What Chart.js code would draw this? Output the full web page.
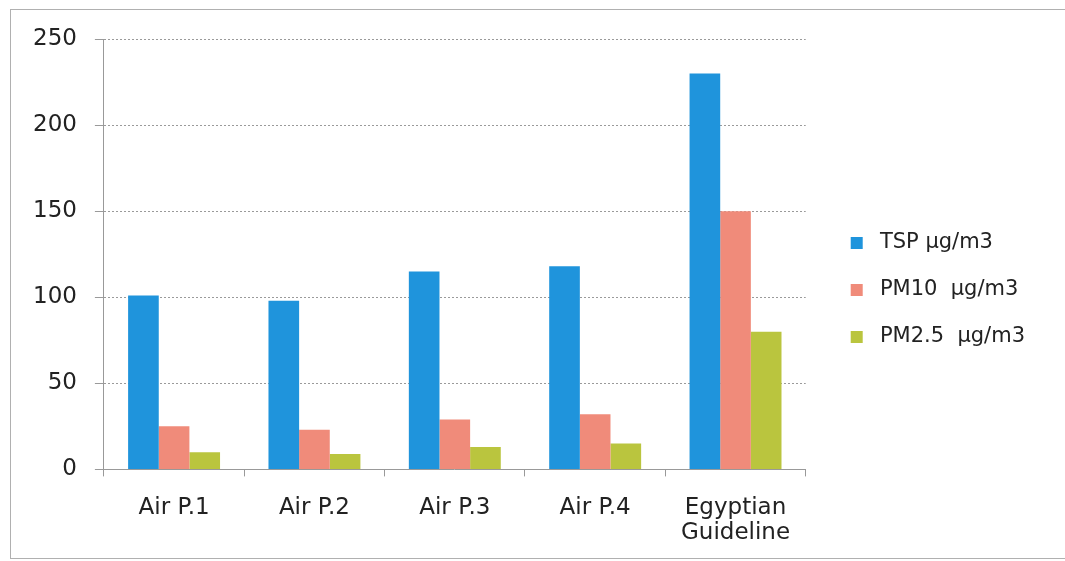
<!DOCTYPE html>
<html>
<head>
<meta charset="utf-8">
<script src="https://cdn.jsdelivr.net/npm/chart.js@4"></script>
<style>
    html, body { margin: 0; padding: 0; background: #fff; overflow: hidden; }
    #wrap { position: relative; width: 1065px; height: 561px; overflow: hidden; }
    #frame {
        position: absolute; left: 10px; top: 9px; width: 1100px; height: 548px;
        border: 1px solid #b0b0b0; border-right: none; pointer-events: none;
    }
</style>
</head>
<body>
<div id="wrap">
    <canvas id="pmChart" width="1065" height="561"></canvas>
    <div id="frame"></div>
</div>
<script>
// Categories and measured concentrations (µg/m3)
const categories = ['Air P.1', 'Air P.2', 'Air P.3', 'Air P.4', ['Egyptian', 'Guideline']];
const seriesNames = [' TSP µg/m3', ' PM10  µg/m3', ' PM2.5  µg/m3'];
const tspValues = [101, 98, 115, 118, 230];
const pm10Values = [25, 23, 29, 32, 150];
const pm25Values = [10, 9, 13, 15, 80];
const yTicks = [0, 50, 100, 150, 200, 250];

document.addEventListener('DOMContentLoaded', function () {
    const ctx = document.getElementById('pmChart').getContext('2d');

    // nudge the legend so its squares sit where the original ones are
    const legendShift = {
        id: 'legendShift',
        afterLayout(chart) {
            chart.legend.left += 19;
            chart.legend.right += 19;
            chart.legend.top -= 12;
            chart.legend.bottom -= 12;
        }
    };

    const data = {
        labels: categories,
        datasets: [
            { label: seriesNames[0], data: tspValues, backgroundColor: '#1f94dc' },
            { label: seriesNames[1], data: pm10Values, backgroundColor: '#f08b7a' },
            { label: seriesNames[2], data: pm25Values, backgroundColor: '#bac53e' }
        ]
    };

    new Chart(ctx, {
        type: 'bar',
        data: data,
        plugins: [legendShift],
        options: {
            responsive: false,
            animation: false,
            datasets: {
                bar: { barPercentage: 1.0, categoryPercentage: 0.655 }
            },
            layout: {
                padding: { left: 15, top: 39, right: 49, bottom: -4 }
            },
            plugins: {
                tooltip: { enabled: false },
                legend: {
                    position: 'right',
                    labels: {
                        boxWidth: 12,
                        boxHeight: 12,
                        padding: 26,
                        color: '#222',
                        font: { family: 'DejaVu Sans', size: 21, lineHeight: 1.2 }
                    }
                }
            },
            scales: {
                x: {
                    grid: { drawOnChartArea: false, drawTicks: true, tickLength: 7, color: '#999' },
                    border: { color: '#999' },
                    ticks: {
                        color: '#222',
                        padding: 19,
                        maxRotation: 0,
                        font: { family: 'DejaVu Sans', size: 23, lineHeight: 1.1 }
                    }
                },
                y: {
                    min: 0,
                    max: 250,
                    afterBuildTicks: function (axis) {
                        axis.ticks = yTicks.map(v => ({ value: v }));
                    },
                    grid: { color: '#9a9a9a', tickLength: 9 },
                    border: { color: '#999', dash: [2, 2] },
                    ticks: {
                        color: '#222',
                        padding: 18,
                        font: { family: 'DejaVu Sans', size: 23 }
                    }
                }
            }
        }
    });
});
</script>
</body>
</html>
